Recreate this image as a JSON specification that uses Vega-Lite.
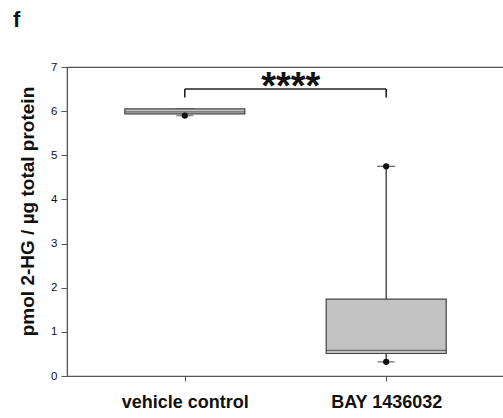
{
  "$schema": "https://vega.github.io/schema/vega-lite/v6.json",
  "autosize": "none",
  "width": 437,
  "height": 309,
  "padding": {"left": 67, "top": 67, "right": 0, "bottom": 42},
  "background": "white",
  "title": {"text": "f", "anchor": "start", "frame": "group", "dx": -54, "offset": 29, "fontSize": 22, "fontWeight": "bold", "font": "Liberation Sans", "color": "#111"},
  "config": {
    "view": {"stroke": "#555", "strokeWidth": 1.2},
    "font": "Liberation Sans",
    "axis": {"grid": false, "domainColor": "#555", "tickColor": "#555", "labelColor": "#111", "titleColor": "#111"}
  },
  "datasets": {
    "boxes": [
      {"group": "vehicle control", "min": 5.90, "q1": 5.94, "median": 5.985, "q3": 6.05, "max": 6.05},
      {"group": "BAY 1436032", "min": 0.32, "q1": 0.51, "median": 0.58, "q3": 1.74, "max": 4.75}
    ],
    "outliers": [
      {"group": "vehicle control", "value": 5.90},
      {"group": "BAY 1436032", "value": 4.75},
      {"group": "BAY 1436032", "value": 0.32}
    ],
    "bracket": [
      {"from": "vehicle control", "to": "BAY 1436032", "y": 6.5, "leg": 6.31, "label": "****"}
    ],
    "legs": [
      {"group": "vehicle control", "y": 6.5, "leg": 6.31},
      {"group": "BAY 1436032", "y": 6.5, "leg": 6.31}
    ]
  },
  "encoding": {
    "x": {
      "field": "group", "type": "nominal",
      "sort": ["vehicle control", "BAY 1436032"],
      "scale": {"type": "point", "padding": 0.585, "domain": ["vehicle control", "BAY 1436032"]},
      "axis": {"title": null, "labelAngle": 0, "labelFontSize": 18, "labelFontWeight": "bold", "labelColor": "#111", "tickSize": 5, "labelPadding": 12, "domain": true}
    }
  },
  "layer": [
    {
      "data": {"name": "boxes"},
      "mark": {"type": "rule", "color": "#333", "strokeWidth": 1.3},
      "encoding": {
        "y": {"field": "q3", "type": "quantitative", "scale": {"domain": [0, 7], "nice": false},
          "axis": {"title": "pmol 2-HG / µg total protein", "values": [0,1,2,3,4,5,6,7], "labelFontSize": 11.5, "labelFontWeight": 500, "tickSize": 6, "labelPadding": 4, "titleFontSize": 19, "titleFontWeight": "bold", "titlePadding": 13, "titleY": 144}},
        "y2": {"field": "max"}
      }
    },
    {
      "data": {"name": "boxes"},
      "mark": {"type": "rule", "color": "#333", "strokeWidth": 1.3},
      "encoding": {
        "y": {"field": "min", "type": "quantitative"},
        "y2": {"field": "q1"}
      }
    },
    {
      "data": {"name": "boxes"},
      "mark": {"type": "tick", "color": "#333", "size": 18, "thickness": 1.3, "orient": "horizontal"},
      "encoding": {"y": {"field": "max", "type": "quantitative"}}
    },
    {
      "data": {"name": "boxes"},
      "mark": {"type": "tick", "color": "#555", "size": 17, "thickness": 1.5, "orient": "horizontal"},
      "encoding": {"y": {"field": "min", "type": "quantitative"}}
    },
    {
      "data": {"name": "boxes"},
      "mark": {"type": "bar", "size": 120, "fill": "#c2c2c2", "stroke": "#444", "strokeWidth": 1.2},
      "encoding": {
        "y": {"field": "q1", "type": "quantitative"},
        "y2": {"field": "q3"}
      }
    },
    {
      "data": {"name": "boxes"},
      "mark": {"type": "tick", "color": "#444", "size": 120, "thickness": 1.2, "orient": "horizontal"},
      "encoding": {"y": {"field": "median", "type": "quantitative"}}
    },
    {
      "data": {"name": "outliers"},
      "mark": {"type": "point", "filled": true, "color": "#111", "size": 40, "opacity": 1},
      "encoding": {"y": {"field": "value", "type": "quantitative"}}
    },
    {
      "data": {"name": "bracket"},
      "mark": {"type": "rule", "color": "#222", "strokeWidth": 1.6},
      "encoding": {
        "x": {"field": "from", "type": "nominal"},
        "x2": {"field": "to"},
        "y": {"field": "y", "type": "quantitative"}
      }
    },
    {
      "data": {"name": "legs"},
      "mark": {"type": "rule", "color": "#222", "strokeWidth": 1.6},
      "encoding": {
        "y": {"field": "y", "type": "quantitative"},
        "y2": {"field": "leg"}
      }
    },
    {
      "data": {"name": "bracket"},
      "mark": {"type": "text", "fontSize": 38, "fontWeight": "bold", "color": "#111", "dx": 106, "dy": 18, "align": "center", "baseline": "bottom", "font": "Liberation Sans"},
      "encoding": {
        "x": {"field": "from", "type": "nominal"},
        "y": {"field": "y", "type": "quantitative"},
        "text": {"field": "label"}
      }
    }
  ]
}
